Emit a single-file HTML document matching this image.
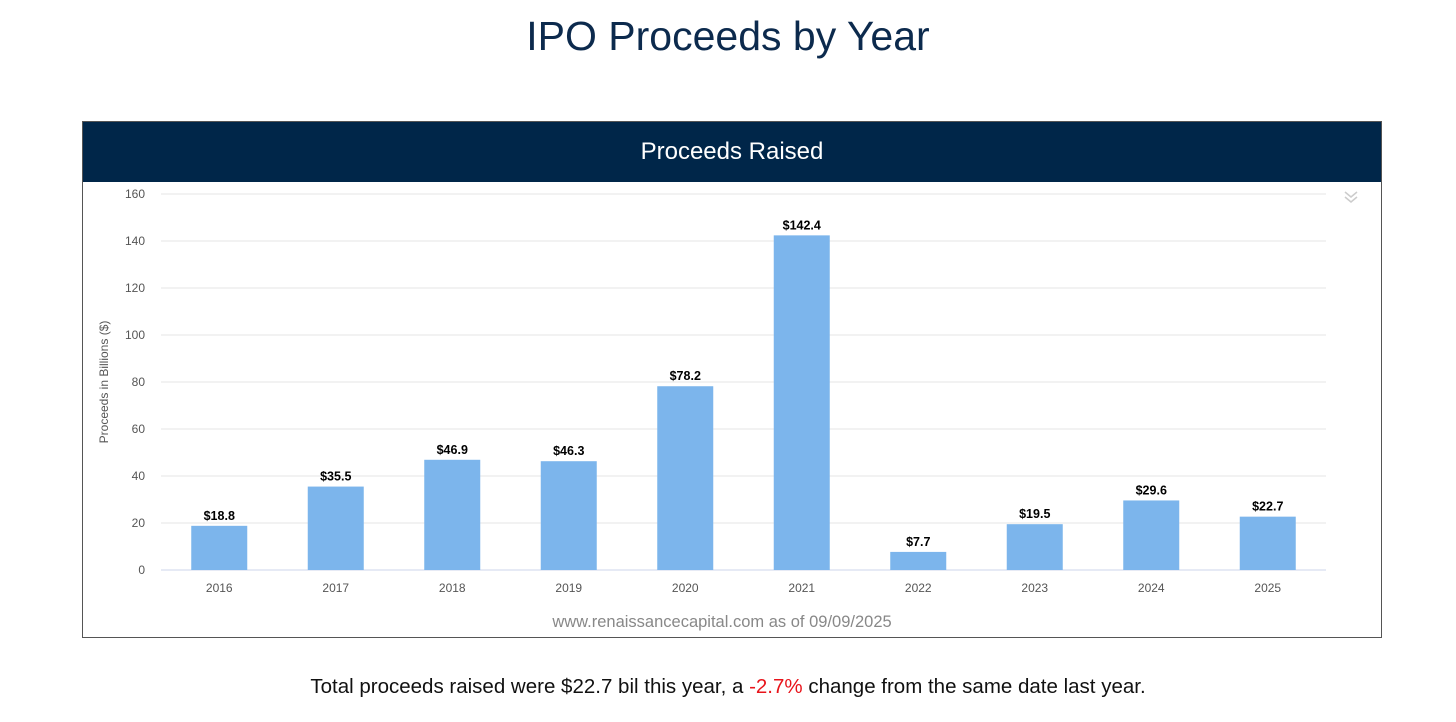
<!DOCTYPE html>
<html><head><meta charset="utf-8"><style>
body{margin:0;width:1456px;height:722px;background:#fff;font-family:"Liberation Sans",sans-serif;position:relative;overflow:hidden}
#title{position:absolute;top:13px;left:0;width:1456px;text-align:center;font-size:41px;color:#0c2a4d}
#panel{position:absolute;left:82px;top:121px;width:1298px;height:515px;border:1px solid #555}
#hdr{height:60px;background:#002649;color:#fff;font-size:24px;text-align:center;line-height:60px}
#note{position:absolute;top:675px;width:1456px;text-align:center;font-size:20.5px;color:#111}
</style></head><body>
<div id="title">IPO Proceeds by Year</div>
<div id="panel"><div id="hdr">Proceeds Raised</div></div>
<svg id="chart" width="1456" height="722" style="position:absolute;left:0;top:0"></svg>
<div id="note">Total proceeds raised were $22.7 bil this year, a <span style="color:#e8141b">-2.7%</span> change from the same date last year.</div>
<script>
const categories=["2016","2017","2018","2019","2020","2021","2022","2023","2024","2025"];
const values=[18.8,35.5,46.9,46.3,78.2,142.4,7.7,19.5,29.6,22.7];
const yTicks=[0,20,40,60,80,100,120,140,160];
const svg=document.getElementById('chart');const NS='http://www.w3.org/2000/svg';
const x0=161,x1=1326,yb=570,yt=194,yMax=160;
const y=v=>yb-(v/yMax)*(yb-yt);
const bw=(x1-x0)/categories.length;const xc=i=>x0+bw*(i+0.5);
function mk(t,a,txt){const e=document.createElementNS(NS,t);for(const k in a)e.setAttribute(k,a[k]);if(txt!==undefined)e.textContent=txt;svg.appendChild(e);return e;}
yTicks.forEach(t=>{
 const l=mk('line',{x1:x0,x2:x1,y1:y(t),y2:y(t),stroke:t===0?'#ccd6eb':'#e6e6e6','stroke-width':1});
 
 
 const tx=mk('text',{x:145,y:y(t)+4,'text-anchor':'end','font-size':12,fill:'#555'},t);
 
 
});
categories.forEach((c,i)=>{
 const r=mk('rect',{x:xc(i)-28,y:y(values[i]),width:56,height:yb-y(values[i]),fill:'#7cb5ec'});
 
 
 const lb=mk('text',{x:xc(i),y:y(values[i])-6,'text-anchor':'middle','font-size':12.5,'font-weight':'bold',fill:'#000'},'$'+values[i].toFixed(1));
 
 
 const xt=mk('text',{x:xc(i),y:592,'text-anchor':'middle','font-size':12,fill:'#555'},c);
 
 
});
const at=mk('text',{x:108,y:382,'text-anchor':'middle','font-size':12,fill:'#555',transform:'rotate(-90 108 382)'},'Proceeds in Billions ($)');


const cr=mk('text',{x:722,y:627,'text-anchor':'middle','font-size':16.5,fill:'#888'},'www.renaissancecapital.com as of 09/09/2025');


const ch=mk('path',{d:'M1345 192 l6 5 l6 -5 M1345 197 l6 5 l6 -5',stroke:'#ccc','stroke-width':1.5,fill:'none'});


</script>
</body></html>
